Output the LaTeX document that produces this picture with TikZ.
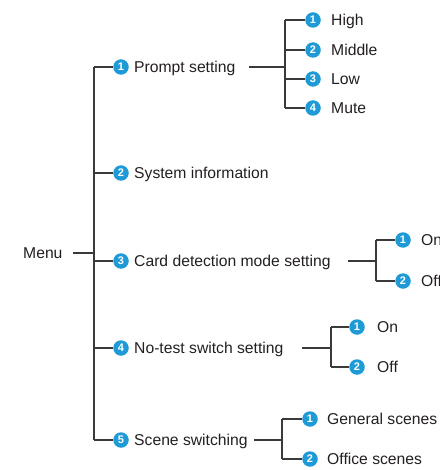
\documentclass[tikz,border=0pt]{standalone}
\usepackage{fontspec}
\setmainfont{Liberation Sans}
\definecolor{numblue}{HTML}{1E9AD6}
\definecolor{linegray}{HTML}{3A3A3A}
\definecolor{txt}{HTML}{231F20}
\begin{document}
\begin{tikzpicture}[x=1pt,y=-1pt,
  num/.style={circle,fill=numblue,text=white,minimum size=15.5pt,inner sep=0pt,font=\fontsize{11}{11}\selectfont\bfseries},
  lbl/.style={anchor=west,inner sep=0pt,text=txt,font=\fontsize{15.7}{17}\selectfont,text height=11.3pt,text depth=0pt},
  conn/.style={draw=linegray,line width=1.3pt}]
\useasboundingbox (0,0) rectangle (439,470);
\clip (0,0) rectangle (439,470);
% Menu
\node[lbl] (menu) at (23,253) {Menu};
\coordinate (m0) at (73,253);
\coordinate (mj) at (94,253);
\draw[conn] (m0) -- (mj);
% trunk
\coordinate (j1) at (94,67);
\coordinate (j2) at (94,173);
\coordinate (j3) at (94,261);
\coordinate (j4) at (94,348);
\coordinate (j5) at (94,440);
\draw[conn] (j1) -- (j5);
\foreach \i/\y/\t in {1/67/Prompt setting,2/173/System information,3/261/Card detection mode setting,4/348/No-test switch setting,5/440/Scene switching}{
  \node[num] (c\i) at (121,\y) {\i};
  \node[lbl] (t\i) at (134,\y) {\t};
  \draw[conn] (j\i) -- (c\i);
}
% Prompt setting sub
\coordinate (p0) at (249,67);
\coordinate (pj) at (285,67);
\draw[conn] (p0) -- (pj);
\coordinate (pa) at (285,20);
\coordinate (pb) at (285,50);
\coordinate (pc) at (285,79);
\coordinate (pd) at (285,108);
\draw[conn] (pa) -- (pd);
\foreach \k/\i/\y/\t in {a/1/20/High,b/2/50/Middle,c/3/79/Low,d/4/108/Mute}{
  \node[num] (pn\k) at (313,\y) {\i};
  \node[lbl] (pt\k) at (331,\y) {\t};
  \draw[conn] (p\k) -- (pn\k);
}
% Card detection sub
\coordinate (cd0) at (348,261);
\coordinate (cdj) at (376,261);
\draw[conn] (cd0) -- (cdj);
\coordinate (cda) at (376,240);
\coordinate (cdb) at (376,281);
\draw[conn] (cda) -- (cdb);
\foreach \k/\i/\y/\t in {a/1/240/On,b/2/281/Off}{
  \node[num] (cdn\k) at (403,\y) {\i};
  \node[lbl] (cdt\k) at (421,\y) {\t};
  \draw[conn] (cd\k) -- (cdn\k);
}
% No-test sub
\coordinate (nt0) at (302,348);
\coordinate (ntj) at (331,348);
\draw[conn] (nt0) -- (ntj);
\coordinate (nta) at (331,327);
\coordinate (ntb) at (331,367);
\draw[conn] (nta) -- (ntb);
\foreach \k/\i/\y/\t in {a/1/327/On,b/2/367/Off}{
  \node[num] (ntn\k) at (357,\y) {\i};
  \node[lbl] (ntt\k) at (377,\y) {\t};
  \draw[conn] (nt\k) -- (ntn\k);
}
% Scene sub
\coordinate (sc0) at (254,440);
\coordinate (scj) at (282,440);
\draw[conn] (sc0) -- (scj);
\coordinate (sca) at (282,419);
\coordinate (scb) at (282,459);
\draw[conn] (sca) -- (scb);
\foreach \k/\i/\y/\t in {a/1/419/General scenes,b/2/459/Office scenes}{
  \node[num] (scn\k) at (310,\y) {\i};
  \node[lbl] (sct\k) at (327,\y) {\t};
  \draw[conn] (sc\k) -- (scn\k);
}
\end{tikzpicture}
\end{document}
